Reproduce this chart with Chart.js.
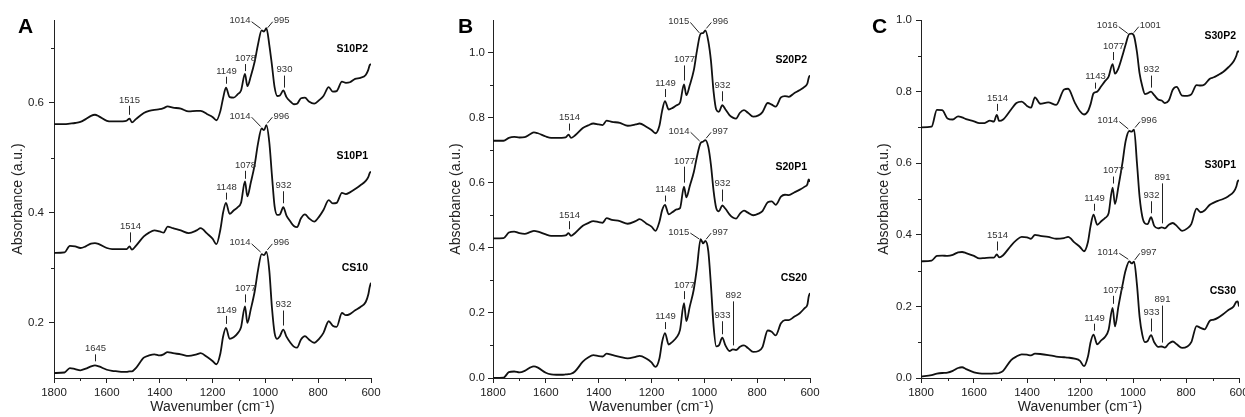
<!DOCTYPE html>
<html>
<head>
<meta charset="utf-8">
<script src="https://cdn.jsdelivr.net/npm/chart.js@4.4.0/dist/chart.umd.min.js"></script>
<style>
  html, body { margin: 0; padding: 0; background: #fff; }
  body { width: 1245px; height: 417px; position: relative; overflow: hidden; }
  canvas { position: absolute; top: 0; }
</style>
</head>
<body>
<canvas id="ca" width="382" height="417" style="left:0px"></canvas>
<canvas id="cb" width="385" height="417" style="left:438px"></canvas>
<canvas id="cc" width="379" height="417" style="left:866px"></canvas>
<script>
// shared wavenumber grid (cm-1), high to low
const wavenumbers = [
  1800, 1760, 1740, 1720, 1700, 1680, 1660, 1645, 1630, 1600,
  1580, 1560, 1540, 1525, 1514, 1505, 1490, 1460, 1440, 1420,
  1400, 1385, 1370, 1350, 1320, 1290, 1260, 1245, 1220, 1200,
  1185, 1170, 1160, 1149, 1135, 1120, 1105, 1092, 1077, 1068,
  1055, 1040, 1028, 1014, 1005, 996, 985, 975, 965, 955,
  945, 932, 920, 905, 892, 880, 865, 850, 835, 815,
  795, 780, 760, 745, 730, 710, 695, 680, 660, 640,
  620, 610, 605, 600
];

// panel A
const s10p2 = [
  0.561, 0.561, 0.562, 0.563, 0.565, 0.570, 0.576, 0.578, 0.575, 0.567,
  0.566, 0.566, 0.566, 0.567, 0.571, 0.564, 0.570, 0.581, 0.585, 0.587,
  0.588, 0.590, 0.593, 0.591, 0.589, 0.584, 0.585, 0.585, 0.579, 0.574,
  0.568, 0.585, 0.608, 0.627, 0.610, 0.609, 0.615, 0.622, 0.652, 0.630,
  0.648, 0.675, 0.705, 0.731, 0.729, 0.735, 0.705, 0.668, 0.628, 0.612,
  0.613, 0.622, 0.610, 0.602, 0.597, 0.598, 0.608, 0.609, 0.602, 0.598,
  0.605, 0.612, 0.628, 0.620, 0.621, 0.638, 0.636, 0.637, 0.643, 0.645,
  0.650, 0.660, 0.668, 0.670
];
const s10p1 = [
  0.327, 0.328, 0.340, 0.339, 0.336, 0.339, 0.344, 0.345, 0.343, 0.336,
  0.334, 0.334, 0.334, 0.334, 0.339, 0.333, 0.340, 0.357, 0.364, 0.368,
  0.366, 0.364, 0.375, 0.372, 0.368, 0.363, 0.368, 0.372, 0.362, 0.353,
  0.343, 0.370, 0.400, 0.418, 0.398, 0.404, 0.410, 0.418, 0.457, 0.430,
  0.455, 0.488, 0.525, 0.553, 0.550, 0.559, 0.528, 0.468, 0.412, 0.396,
  0.397, 0.410, 0.395, 0.384, 0.376, 0.374, 0.390, 0.397, 0.390, 0.384,
  0.394, 0.405, 0.423, 0.417, 0.418, 0.436, 0.434, 0.437, 0.443, 0.450,
  0.458, 0.465, 0.472, 0.475
];
const cs10 = [
  0.109, 0.110, 0.118, 0.116, 0.114, 0.117, 0.121, 0.123, 0.121, 0.115,
  0.113, 0.112, 0.111, 0.111, 0.112, 0.112, 0.118, 0.137, 0.141, 0.143,
  0.141, 0.143, 0.147, 0.145, 0.143, 0.140, 0.143, 0.145, 0.138, 0.131,
  0.125, 0.145, 0.175, 0.191, 0.171, 0.174, 0.181, 0.192, 0.230, 0.200,
  0.225, 0.258, 0.295, 0.325, 0.323, 0.329, 0.295, 0.228, 0.182, 0.171,
  0.176, 0.188, 0.175, 0.164, 0.157, 0.155, 0.170, 0.176, 0.170, 0.164,
  0.172, 0.182, 0.203, 0.195, 0.193, 0.218, 0.214, 0.216, 0.223, 0.229,
  0.238, 0.252, 0.265, 0.273
];

// panel B
const s20p2 = [
  0.729, 0.729, 0.738, 0.741, 0.739, 0.740, 0.749, 0.755, 0.752, 0.742,
  0.738, 0.738, 0.738, 0.739, 0.748, 0.738, 0.745, 0.768, 0.776, 0.782,
  0.779, 0.777, 0.791, 0.787, 0.784, 0.775, 0.779, 0.782, 0.772, 0.762,
  0.752, 0.775, 0.820, 0.851, 0.825, 0.830, 0.838, 0.846, 0.902, 0.869,
  0.900, 0.945, 1.005, 1.058, 1.060, 1.068, 1.035, 0.975, 0.880, 0.825,
  0.818, 0.838, 0.825, 0.808, 0.800, 0.797, 0.815, 0.823, 0.815, 0.803,
  0.807, 0.817, 0.845, 0.840, 0.834, 0.862, 0.866, 0.864, 0.875, 0.884,
  0.895, 0.905, 0.922, 0.930
];
const s20p1 = [
  0.429, 0.430, 0.447, 0.450, 0.445, 0.443, 0.448, 0.452, 0.450, 0.441,
  0.437, 0.437, 0.437, 0.438, 0.445, 0.437, 0.445, 0.468, 0.476, 0.482,
  0.479, 0.477, 0.491, 0.486, 0.482, 0.474, 0.482, 0.488, 0.475, 0.465,
  0.452, 0.480, 0.515, 0.532, 0.503, 0.510, 0.518, 0.522, 0.588, 0.555,
  0.590, 0.632, 0.680, 0.722, 0.726, 0.731, 0.710, 0.655, 0.575, 0.522,
  0.512, 0.530, 0.520, 0.503, 0.493, 0.490, 0.505, 0.514, 0.508, 0.500,
  0.505, 0.513, 0.540, 0.543, 0.532, 0.557, 0.563, 0.562, 0.570, 0.578,
  0.588, 0.595, 0.610, 0.603
];
const cs20 = [
  0.000, 0.001, 0.018, 0.020, 0.017, 0.022, 0.032, 0.036, 0.032, 0.016,
  0.011, 0.010, 0.010, 0.011, 0.012, 0.013, 0.020, 0.050, 0.063, 0.070,
  0.067, 0.066, 0.075, 0.071, 0.065, 0.060, 0.065, 0.068, 0.060, 0.048,
  0.034, 0.060, 0.110, 0.138, 0.103, 0.112, 0.125, 0.148, 0.230, 0.175,
  0.220, 0.272, 0.338, 0.427, 0.414, 0.421, 0.390, 0.285, 0.160, 0.097,
  0.100, 0.124, 0.100, 0.083, 0.088, 0.086, 0.096, 0.100, 0.092, 0.080,
  0.083, 0.095, 0.146, 0.142, 0.131, 0.168, 0.178, 0.178, 0.188, 0.198,
  0.215, 0.225, 0.250, 0.261
];

// panel C
const s30p2 = [
  0.700, 0.702, 0.749, 0.748, 0.725, 0.722, 0.731, 0.728, 0.723, 0.717,
  0.712, 0.712, 0.719, 0.716, 0.735, 0.718, 0.722, 0.750, 0.768, 0.772,
  0.760, 0.755, 0.784, 0.766, 0.770, 0.763, 0.806, 0.808, 0.770, 0.745,
  0.736, 0.745, 0.765, 0.795, 0.800, 0.815, 0.830, 0.842, 0.877, 0.850,
  0.865, 0.900, 0.931, 0.961, 0.962, 0.955, 0.910, 0.850, 0.815, 0.793,
  0.795, 0.800, 0.790, 0.778, 0.775, 0.768, 0.775, 0.805, 0.813, 0.789,
  0.788, 0.792, 0.818, 0.817, 0.820, 0.836, 0.840, 0.846, 0.855, 0.868,
  0.885, 0.900, 0.912, 0.912
];
const s30p1 = [
  0.326, 0.328, 0.341, 0.342, 0.341, 0.344, 0.351, 0.352, 0.349, 0.341,
  0.334, 0.335, 0.336, 0.336, 0.345, 0.337, 0.343, 0.370, 0.385, 0.394,
  0.393, 0.389, 0.400, 0.397, 0.394, 0.389, 0.391, 0.394, 0.378, 0.366,
  0.354, 0.380, 0.425, 0.456, 0.428, 0.438, 0.447, 0.460, 0.532, 0.486,
  0.535, 0.600, 0.661, 0.690, 0.688, 0.694, 0.600, 0.505, 0.451, 0.432,
  0.430, 0.449, 0.425, 0.418, 0.421, 0.418, 0.428, 0.433, 0.425, 0.411,
  0.418, 0.430, 0.473, 0.463, 0.468, 0.484, 0.490, 0.495, 0.500, 0.508,
  0.520, 0.535, 0.549, 0.553
];
const cs30 = [
  0.004, 0.008, 0.012, 0.014, 0.015, 0.020, 0.028, 0.030, 0.025, 0.016,
  0.013, 0.012, 0.012, 0.013, 0.013, 0.014, 0.020, 0.050, 0.060, 0.066,
  0.065, 0.063, 0.068, 0.067, 0.064, 0.060, 0.058, 0.057, 0.054, 0.048,
  0.033, 0.060, 0.100, 0.121, 0.094, 0.105, 0.115, 0.135, 0.196, 0.144,
  0.200, 0.258, 0.300, 0.326, 0.320, 0.325, 0.260, 0.170, 0.121, 0.100,
  0.103, 0.120, 0.100, 0.087, 0.088, 0.085, 0.096, 0.102, 0.094, 0.084,
  0.088, 0.100, 0.145, 0.140, 0.136, 0.160, 0.163, 0.168, 0.178, 0.190,
  0.200, 0.213, 0.214, 0.200
];

// axis ticks
const xMajor = [1800, 1600, 1400, 1200, 1000, 800, 600];
const xMinor = [1700, 1500, 1300, 1100, 900, 700];
const yMajorA = [0.2, 0.4, 0.6];
const yMinorA = [0.3, 0.5, 0.7];
const yMajorB = [0.0, 0.2, 0.4, 0.6, 0.8, 1.0];
const yMinorB = [0.1, 0.3, 0.5, 0.7, 0.9];
const yMajorC = [0.0, 0.2, 0.4, 0.6, 0.8, 1.0];
const yMinorC = [0.1, 0.3, 0.5, 0.7, 0.9];

// peak labels: [wavenumber, text, leader length px]
const marksS10P2 = [[1515, '1515', 9], [1149, '1149', 7], [1078, '1078', 7], [930, '930', 12]];
const marksS10P1 = [[1514, '1514', 10], [1148, '1148', 7], [1078, '1078', 8], [932, '932', 12]];
const marksCS10 = [[1645, '1645', 7], [1149, '1149', 8], [1077, '1077', 8], [932, '932', 15]];
const marksS20P2 = [[1514, '1514', 7], [1149, '1149', 8], [1077, '1077', 15], [932, '932', 10]];
const marksS20P1 = [[1514, '1514', 8], [1148, '1148', 6], [1077, '1077', 16], [932, '932', 12]];
const marksCS20 = [[1149, '1149', 7], [1077, '1077', 8], [933, '933', 13], [892, '892', 44]];
const marksS30P2 = [[1514, '1514', 7], [1143, '1143', 6], [1077, '1077', 8], [932, '932', 12]];
const marksS30P1 = [[1514, '1514', 9], [1149, '1149', 7], [1077, '1077', 7], [932, '932', 12], [891, '891', 40]];
const marksCS30 = [[1149, '1149', 7], [1077, '1077', 8], [933, '933', 13], [891, '891', 37]];
// doublet labels on the main band
const pairS10P2 = [1014, 995, '1014', '995'];
const pairS10P1 = [1014, 996, '1014', '996'];
const pairCS10 = [1014, 996, '1014', '996'];
const pairS20P2 = [1015, 996, '1015', '996'];
const pairS20P1 = [1014, 997, '1014', '997'];
const pairCS20 = [1015, 997, '1015', '997'];
const pairS30P2 = [1016, 1001, '1016', '1001'];
const pairS30P1 = [1014, 996, '1014', '996'];
const pairCS30 = [1014, 997, '1014', '997'];

const panels = [
  { canvas: 'ca', letter: 'A', letterX: 18, yMin: 0.1, yMax: 0.75, yMajor: yMajorA, yMinor: yMinorA,
    axisWidth: 54, labelPad: 5, padRight: 11,
    names: ['S10P2', 'S10P1', 'CS10'], values: [s10p2, s10p1, cs10],
    marks: [marksS10P2, marksS10P1, marksCS10], pairs: [pairS10P2, pairS10P1, pairCS10] },
  { canvas: 'cb', letter: 'B', letterX: 20, yMin: 0, yMax: 1.1, yMajor: yMajorB, yMinor: yMinorB,
    axisWidth: 55, labelPad: 3, padRight: 13,
    names: ['S20P2', 'S20P1', 'CS20'], values: [s20p2, s20p1, cs20],
    marks: [marksS20P2, marksS20P1, marksCS20], pairs: [pairS20P2, pairS20P1, pairCS20] },
  { canvas: 'cc', letter: 'C', letterX: 6, yMin: 0, yMax: 1.0, yMajor: yMajorC, yMinor: yMinorC,
    axisWidth: 55, labelPad: 4, padRight: 6,
    names: ['S30P2', 'S30P1', 'CS30'], values: [s30p2, s30p1, cs30],
    marks: [marksS30P2, marksS30P1, marksCS30], pairs: [pairS30P2, pairS30P1, pairCS30] }
];

const FONT = '"Liberation Sans", Arial, sans-serif';
const INK = '#222';
Chart.defaults.font.family = FONT;
Chart.defaults.color = INK;

// curve value at any wavenumber, only used to place the labels
function valueAt(vals, w) {
  for (let i = 0; i < wavenumbers.length - 1; i++) {
    const a = wavenumbers[i], b = wavenumbers[i + 1];
    if (w <= a && w >= b) {
      const t = (a - w) / (a - b);
      return vals[i] + t * (vals[i + 1] - vals[i]);
    }
  }
  return vals[vals.length - 1];
}

function makeDecor(p) {
  return {
    id: 'decor',
    afterDraw(chart) {
      const { ctx, chartArea, scales: { x, y } } = chart;
      ctx.save();
      ctx.strokeStyle = INK;
      ctx.lineWidth = 1;

      // minor ticks
      ctx.beginPath();
      xMinor.forEach(v => {
        const px = Math.round(x.getPixelForValue(v)) + 0.5;
        ctx.moveTo(px, chartArea.bottom);
        ctx.lineTo(px, chartArea.bottom + 3);
      });
      p.yMinor.forEach(v => {
        const py = Math.round(y.getPixelForValue(v)) + 0.5;
        ctx.moveTo(chartArea.left - 3, py);
        ctx.lineTo(chartArea.left, py);
      });
      ctx.stroke();

      // panel letter
      ctx.fillStyle = '#000';
      ctx.font = 'bold 21px ' + FONT;
      ctx.textAlign = 'left';
      ctx.textBaseline = 'alphabetic';
      ctx.fillText(p.letter, p.letterX, 33);

      p.values.forEach((vals, k) => {
        // series name
        ctx.fillStyle = '#000';
        ctx.font = 'bold 10.5px ' + FONT;
        ctx.textAlign = 'right';
        ctx.textBaseline = 'middle';
        ctx.fillText(p.names[k], chartArea.right - 3, y.getPixelForValue(vals[vals.length - 1]) - 15);

        ctx.font = '9.5px ' + FONT;
        ctx.fillStyle = '#333';
        ctx.strokeStyle = INK;

        // single peak labels
        p.marks[k].forEach(([w, text, len]) => {
          const px = Math.round(x.getPixelForValue(w)) + 0.5;
          const y1 = y.getPixelForValue(valueAt(vals, w)) - 4;
          const y0 = y1 - len;
          ctx.beginPath();
          ctx.moveTo(px, y0);
          ctx.lineTo(px, y1);
          ctx.stroke();
          ctx.textAlign = 'center';
          ctx.textBaseline = 'bottom';
          ctx.fillText(text, px, y0 - 1);
        });

        // doublet labels
        const [wl, wr, tl, tr] = p.pairs[k];
        const xl = x.getPixelForValue(wl), yl = y.getPixelForValue(valueAt(vals, wl));
        const xr = x.getPixelForValue(wr), yr = y.getPixelForValue(valueAt(vals, wr));
        const yc = Math.min(yl, yr) - 9;
        ctx.textBaseline = 'middle';
        ctx.textAlign = 'right';
        ctx.fillText(tl, xl - 11, yc);
        ctx.textAlign = 'left';
        ctx.fillText(tr, xr + 7, yc);
        ctx.beginPath();
        ctx.moveTo(xl - 10, yc + 1);
        ctx.lineTo(xl - 1, yl - 2);
        ctx.moveTo(xr + 6, yc + 1);
        ctx.lineTo(xr + 1, yr - 2);
        ctx.stroke();
      });
      ctx.restore();
    }
  };
}

panels.forEach(p => {
  new Chart(document.getElementById(p.canvas), {
    type: 'line',
    data: {
      datasets: p.values.map((vals, k) => ({
        label: p.names[k],
        data: wavenumbers.map((w, i) => ({ x: w, y: vals[i] })),
        borderColor: '#111',
        borderWidth: 1.8,
        pointRadius: 0,
        fill: false,
        cubicInterpolationMode: 'monotone'
      }))
    },
    options: {
      responsive: false,
      animation: false,
      events: [],
      layout: { padding: { left: 0, right: p.padRight, top: 20, bottom: 0 } },
      plugins: { legend: { display: false }, tooltip: { enabled: false } },
      scales: {
        x: {
          type: 'linear',
          reverse: true,
          min: 600,
          max: 1800,
          afterBuildTicks: s => { s.ticks = xMajor.map(v => ({ value: v })); },
          afterFit: s => { s.height = 39; s.paddingLeft = 0; s.paddingRight = 0; },
          ticks: { autoSkip: false, maxRotation: 0, padding: 3, font: { size: 11.5 }, color: INK,
                   callback: v => String(v) },
          grid: { drawOnChartArea: false, drawTicks: true, tickLength: 5, color: INK },
          border: { display: true, color: INK, width: 1 },
          title: { display: true, text: 'Wavenumber (cm⁻¹)', font: { size: 14 }, color: INK,
                   padding: { top: 0, bottom: 1 } }
        },
        y: {
          type: 'linear',
          min: p.yMin,
          max: p.yMax,
          afterBuildTicks: s => { s.ticks = p.yMajor.map(v => ({ value: v })); },
          afterFit: s => { s.width = p.axisWidth; s.paddingTop = 0; s.paddingBottom = 0; },
          ticks: { padding: p.labelPad, font: { size: 11.5 }, color: INK,
                   callback: v => Number(v).toFixed(1) },
          grid: { drawOnChartArea: false, drawTicks: true, tickLength: 5, color: INK },
          border: { display: true, color: INK, width: 1 },
          title: { display: true, text: 'Absorbance (a.u.)', font: { size: 14 }, color: INK,
                   padding: { top: 10, bottom: 0 } }
        }
      }
    },
    plugins: [makeDecor(p)]
  });
});
</script>
</body>
</html>
